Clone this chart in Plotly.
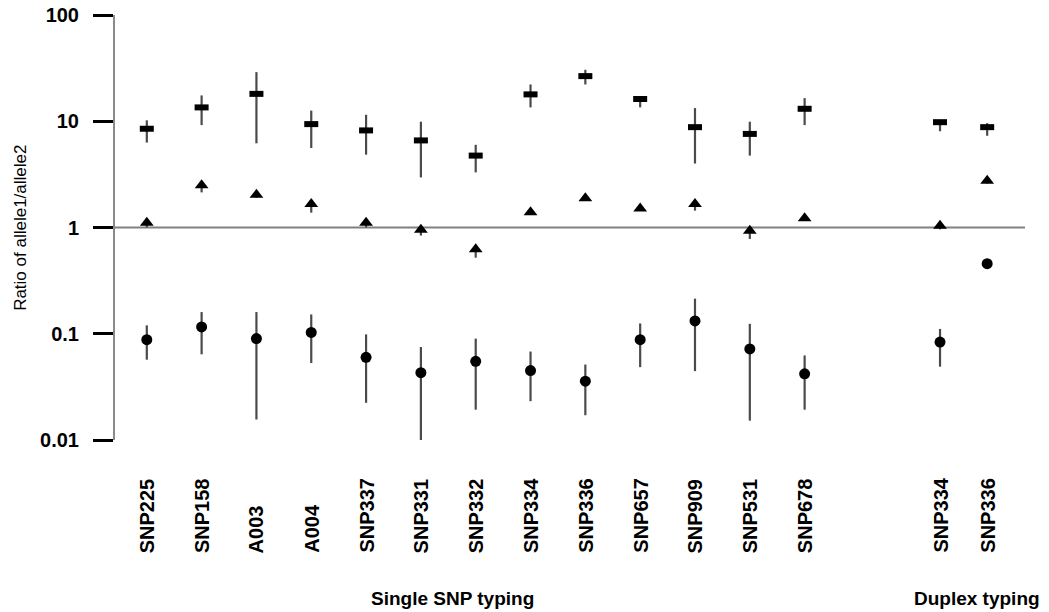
import plotly.graph_objects as go

# Categories (display order) and their x positions (duplex group set apart)
labels = ["SNP225", "SNP158", "A003", "A004", "SNP337", "SNP331", "SNP332",
          "SNP334", "SNP336", "SNP657", "SNP909", "SNP531", "SNP678",
          "SNP334", "SNP336"]
xpos = [0, 1, 2, 3, 4, 5, 6, 7, 8, 9, 10, 11, 12, 14.47, 15.33]

# Upper group (dash markers)
top_val = [8.5, 13.5, 18.1, 9.4, 8.2, 6.6, 4.75, 17.9, 26.6, 16.2, 8.8, 7.6, 13.1, 9.8, 8.8]
top_hi  = [10.2, 17.5, 29.0, 12.6, 11.5, 9.9, 6.0, 22.2, 30.5, 16.8, 13.3, 9.9, 16.5, 10.2, 9.6]
top_lo  = [6.3, 9.2, 6.2, 5.6, 4.85, 2.96, 3.3, 13.5, 22.2, 13.5, 4.0, 4.75, 9.2, 8.05, 7.3]

# Middle group (triangles)
mid_val = [1.11, 2.5, 2.03, 1.66, 1.11, 0.95, 0.625, 1.39, 1.88, 1.51, 1.66, 0.93, 1.22, 1.04, 2.76]
mid_hi  = [1.15, 2.6, 2.08, 1.72, 1.15, 1.0, 0.66, 1.42, 1.92, 1.54, 1.72, 1.0, 1.26, 1.07, 2.85]
mid_lo  = [1.0, 2.14, 1.9, 1.38, 1.0, 0.84, 0.52, 1.33, 1.8, 1.45, 1.44, 0.78, 1.15, 0.96, 2.6]

# Lower group (circles)
low_val = [0.088, 0.116, 0.090, 0.103, 0.060, 0.043, 0.055, 0.045, 0.0358, 0.088, 0.132, 0.072, 0.042, 0.0835, 0.457]
low_hi  = [0.12, 0.16, 0.16, 0.152, 0.0986, 0.075, 0.090, 0.068, 0.0513, 0.125, 0.214, 0.124, 0.0625, 0.111, 0.457]
low_lo  = [0.057, 0.064, 0.0156, 0.053, 0.0224, 0.0084, 0.0193, 0.0232, 0.0171, 0.0485, 0.0445, 0.0152, 0.0193, 0.049, 0.457]

ytick_vals = [0.01, 0.1, 1, 10, 100]
ytick_text = ["0.01", "0.1", "1", "10", "100"]
xrange_ = [-0.58, 16.02]

FONT = "Liberation Sans, Arial, Helvetica, sans-serif"
ERR = "#4a4a4a"

def err(vals, hi, lo):
    return dict(type="data", symmetric=False,
                array=[h - v for v, h in zip(vals, hi)],
                arrayminus=[v - l for v, l in zip(vals, lo)],
                color=ERR, thickness=2.2, width=0)

fig = go.Figure()

# reference line at ratio 1
fig.add_trace(go.Scatter(x=xrange_, y=[1, 1], mode="lines",
                         line=dict(color="#808080", width=2),
                         hoverinfo="skip", showlegend=False))

fig.add_trace(go.Scatter(x=xpos, y=top_val, mode="markers",
                         error_y=err(top_val, top_hi, top_lo),
                         marker=dict(symbol="line-ew", size=10, color="black",
                                     line=dict(color="black", width=6)),
                         showlegend=False))
fig.add_trace(go.Scatter(x=xpos, y=mid_val, mode="markers",
                         error_y=err(mid_val, mid_hi, mid_lo),
                         marker=dict(symbol="triangle-up", size=12, color="black"),
                         showlegend=False))
fig.add_trace(go.Scatter(x=xpos, y=low_val, mode="markers",
                         error_y=err(low_val, low_hi, low_lo),
                         marker=dict(symbol="circle", size=11, color="black"),
                         showlegend=False))

# rotated category labels, bottom-aligned
for xp, lab in zip(xpos, labels):
    fig.add_annotation(x=xp, xref="x", y=-0.2706, yref="paper", text=lab,
                       textangle=-90, showarrow=False, xanchor="center",
                       yanchor="bottom",
                       font=dict(family=FONT, size=20, color="black", weight="bold"))

fig.add_annotation(x=5.58, xref="x", y=-0.372, yref="paper",
                   text="Single SNP typing", showarrow=False,
                   xanchor="center", yanchor="middle",
                   font=dict(family=FONT, size=19, color="black", weight="bold"))
fig.add_annotation(x=15.15, xref="x", y=-0.372, yref="paper",
                   text="Duplex typing", showarrow=False,
                   xanchor="center", yanchor="middle",
                   font=dict(family=FONT, size=19, color="black", weight="bold"))

# y axis title
fig.add_annotation(x=-0.104, xref="paper", y=0.5, yref="paper",
                   text="Ratio of allele1/allele2", textangle=-90,
                   showarrow=False, xanchor="center", yanchor="middle",
                   font=dict(family=FONT, size=17, color="black"))

fig.update_layout(
    width=1049, height=612,
    margin=dict(l=115, r=24, t=15, b=172, autoexpand=False),
    plot_bgcolor="white", paper_bgcolor="white",
    xaxis=dict(range=xrange_, showgrid=False, zeroline=False, automargin=False,
               showticklabels=False, showline=False, ticks=""),
    yaxis=dict(type="log", range=[-2, 2], tickvals=ytick_vals, ticktext=ytick_text,
               showgrid=False, zeroline=False, showline=True, automargin=False,
               linecolor="#8a8a8a", linewidth=2,
               ticks="outside", ticklen=20, tickwidth=3, tickcolor="black",
               ticklabelstandoff=10,
               tickfont=dict(family=FONT, size=20, color="black", weight="bold")),
)

fig.write_html("out.html",
               config={"displayModeBar": False},
               post_script="document.body.style.margin='0';document.body.style.overflow='hidden';")
